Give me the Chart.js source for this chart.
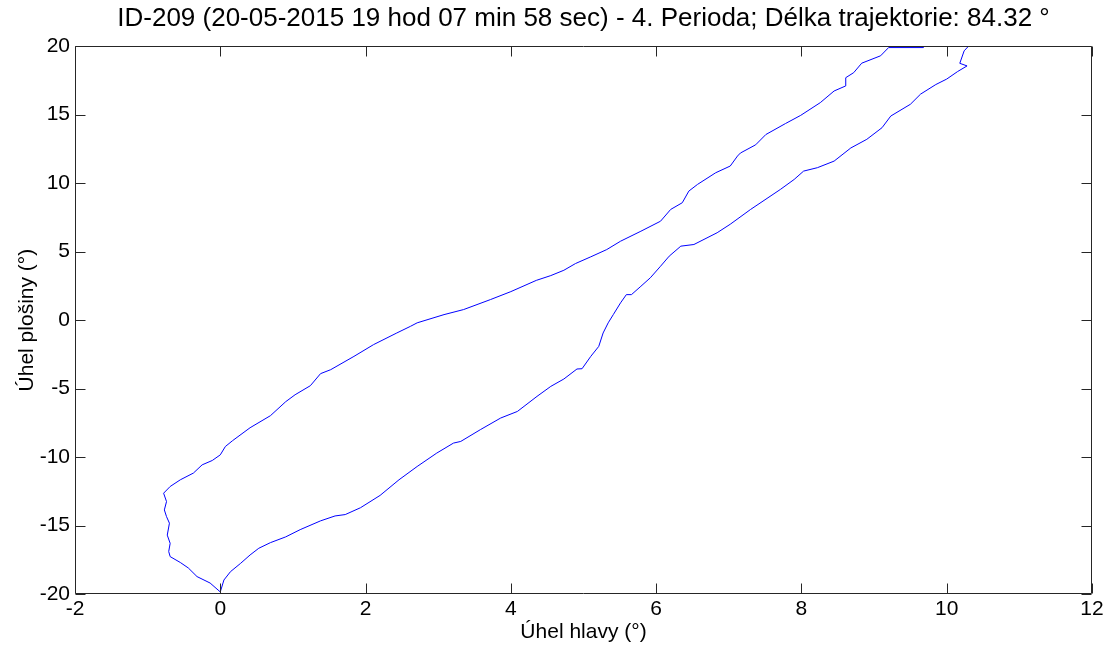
<!DOCTYPE html>
<html>
<head>
<meta charset="utf-8">
<script src="https://cdn.jsdelivr.net/npm/chart.js@4/dist/chart.umd.min.js"></script>
<style>
  html, body { margin: 0; padding: 0; background: #fff; }
  #wrap { width: 1108px; height: 646px; }
</style>
</head>
<body>
<div id="wrap"><canvas id="c" width="1108" height="646"></canvas></div>
<script>
const titleText = 'ID-209 (20-05-2015 19 hod 07 min 58 sec) - 4. Perioda; Délka trajektorie: 84.32 °';
const xTitle = 'Úhel hlavy (°)';
const yTitle = 'Úhel plošiny (°)';
const xTicks = [-2, 0, 2, 4, 6, 8, 10, 12];
const yTicks = [-20, -15, -10, -5, 0, 5, 10, 15, 20];

const xVals = [
  0, -0.14, -0.32, -0.44, -0.55, -0.69, -0.71, -0.69, -0.73, -0.70, -0.74, -0.77, -0.74, -0.78, -0.69,
  -0.55, -0.37, -0.25, -0.11, 0, 0.07, 0.17, 0.41, 0.69, 0.90, 1.03, 1.24, 1.38, 1.52, 1.84, 2.11,
  2.43, 2.62, 2.71, 3.08, 3.35, 3.72, 4.00, 4.35, 4.55, 4.73, 4.89, 5.10, 5.32, 5.51, 5.79, 6.06,
  6.20, 6.36, 6.45, 6.57, 6.82, 7.02, 7.12, 7.16, 7.37, 7.51, 7.78, 7.99, 8.26, 8.45, 8.61, 8.61,
  8.72, 8.83, 9.09, 9.20, 9.68, 9.72, 10.25, 10.30,
  10.24, 10.18, 10.28, 10.15, 10.00, 9.85, 9.64, 9.50, 9.23, 9.11, 8.90, 8.68, 8.45, 8.22, 8.03,
  7.90, 7.71, 7.30, 7.02, 6.84, 6.52, 6.34, 6.18, 6.06, 5.92, 5.79, 5.66, 5.59, 5.51, 5.41, 5.34,
  5.27, 5.21, 5.10, 4.98, 4.91, 4.73, 4.55, 4.36, 4.09, 3.86, 3.58, 3.31, 3.21, 2.98, 2.71, 2.46,
  2.20, 1.93, 1.72, 1.58, 1.38, 1.10, 0.90, 0.69, 0.53, 0.41, 0.28, 0.14, 0.05, 0
];
const yVals = [
  -19.85, -19.2, -18.73, -18.1, -17.7, -17.27, -16.9, -16.3, -15.7, -14.83, -14.35, -13.86, -13.25, -12.64, -12.15,
  -11.66, -11.17, -10.57, -10.25, -9.84, -9.23, -8.8, -7.86, -6.98, -5.96, -5.45, -4.79, -3.91, -3.62, -2.65, -1.79,
  -0.94, -0.45, -0.2, 0.4, 0.77, 1.5, 2.08, 2.9, 3.25, 3.64, 4.13, 4.62, 5.15, 5.76, 6.49, 7.22,
  8.08, 8.57, 9.42, 9.91, 10.76, 11.25, 11.98, 12.2, 12.8, 13.55, 14.35, 14.95, 15.88, 16.73, 17.1, 17.7,
  18.07, 18.76, 19.3, 19.9, 19.9, 20.6, 20.6, 20.0,
  19.66, 18.75, 18.56, 18.15, 17.6, 17.2, 16.5, 15.76, 14.9, 14.05, 13.2, 12.57, 11.61, 11.13, 10.88,
  10.27, 9.54, 8.08, 7.0, 6.38, 5.52, 5.4, 4.67, 3.93, 3.09, 2.47, 1.86, 1.86, 1.26, 0.4, -0.2,
  -0.94, -1.92, -2.65, -3.55, -3.57, -4.3, -4.84, -5.57, -6.67, -7.15, -8.0, -8.86, -8.98, -9.71, -10.69, -11.66,
  -12.8, -13.7, -14.2, -14.3, -14.66, -15.3, -15.83, -16.25, -16.66, -17.15, -17.76, -18.37, -18.98, -19.85
];

const points = xVals.map((x, i) => ({ x: x, y: yVals[i] }));

const FONT = 'Arial, "Liberation Sans", sans-serif';
const AX = '#262626';

const boxPlugin = {
  id: 'matlabBox',
  afterDraw(chart) {
    const ctx = chart.ctx;
    const a = chart.chartArea;
    const xs = chart.scales.x, ys = chart.scales.y;
    const L = Math.round(a.left) + 0.5, R = Math.round(a.right) - 0.5;
    const T = Math.round(a.top) + 0.5, B = Math.round(a.bottom) - 0.5;
    ctx.save();
    ctx.strokeStyle = AX;
    ctx.lineWidth = 1;
    ctx.beginPath();
    ctx.rect(L, T, R - L, B - T);
    ctx.stroke();
    const tl = 10;
    ctx.beginPath();
    xTicks.forEach(v => {
      const px = Math.round(xs.getPixelForValue(v)) + 0.5;
      ctx.moveTo(px, B); ctx.lineTo(px, B - tl);
      ctx.moveTo(px, T); ctx.lineTo(px, T + tl);
    });
    yTicks.forEach(v => {
      const py = Math.round(ys.getPixelForValue(v)) + 0.5;
      ctx.moveTo(L, py); ctx.lineTo(L + tl, py);
      ctx.moveTo(R, py); ctx.lineTo(R - tl, py);
    });
    ctx.stroke();
    ctx.restore();
  }
};

new Chart(document.getElementById('c'), {
  type: 'scatter',
  data: {
    datasets: [{
      data: points,
      showLine: true,
      borderColor: '#0000ff',
      borderWidth: 1,
      pointRadius: 0,
      tension: 0,
      fill: false
    }]
  },
  options: {
    responsive: false,
    animation: false,
    layout: { padding: { left: 0, right: 16, top: 0, bottom: 0 } },
    plugins: {
      legend: { display: false },
      tooltip: { enabled: false },
      title: {
        display: true,
        fullSize: false,
        text: titleText,
        color: '#000',
        font: { family: FONT, size: 26, weight: 'normal', lineHeight: 1.2 },
        padding: { top: 3, bottom: 12 }
      }
    },
    scales: {
      x: {
        type: 'linear',
        min: -2, max: 12,
        afterBuildTicks(s) { s.ticks = xTicks.map(v => ({ value: v })); },
        afterFit(s) { s.height = 52; },
        grid: { display: false, drawTicks: false },
        border: { display: false },
        ticks: {
          color: '#000',
          font: { family: FONT, size: 21 },
          padding: 3,
          maxRotation: 0,
          autoSkip: false
        },
        title: {
          display: true,
          text: xTitle,
          color: '#000',
          font: { family: FONT, size: 21, lineHeight: 1.2 },
          padding: { top: 0, bottom: 1 }
        }
      },
      y: {
        type: 'linear',
        min: -20, max: 20,
        afterBuildTicks(s) { s.ticks = yTicks.map(v => ({ value: v })); },
        afterFit(s) { s.width = 75; },
        grid: { display: false, drawTicks: false },
        border: { display: false },
        ticks: {
          color: '#000',
          font: { family: FONT, size: 21 },
          padding: 5,
          autoSkip: false
        },
        title: {
          display: true,
          text: yTitle,
          color: '#000',
          font: { family: FONT, size: 21, lineHeight: 1.2 },
          padding: { top: 15, bottom: 0 }
        }
      }
    }
  },
  plugins: [boxPlugin]
});
</script>
</body>
</html>
